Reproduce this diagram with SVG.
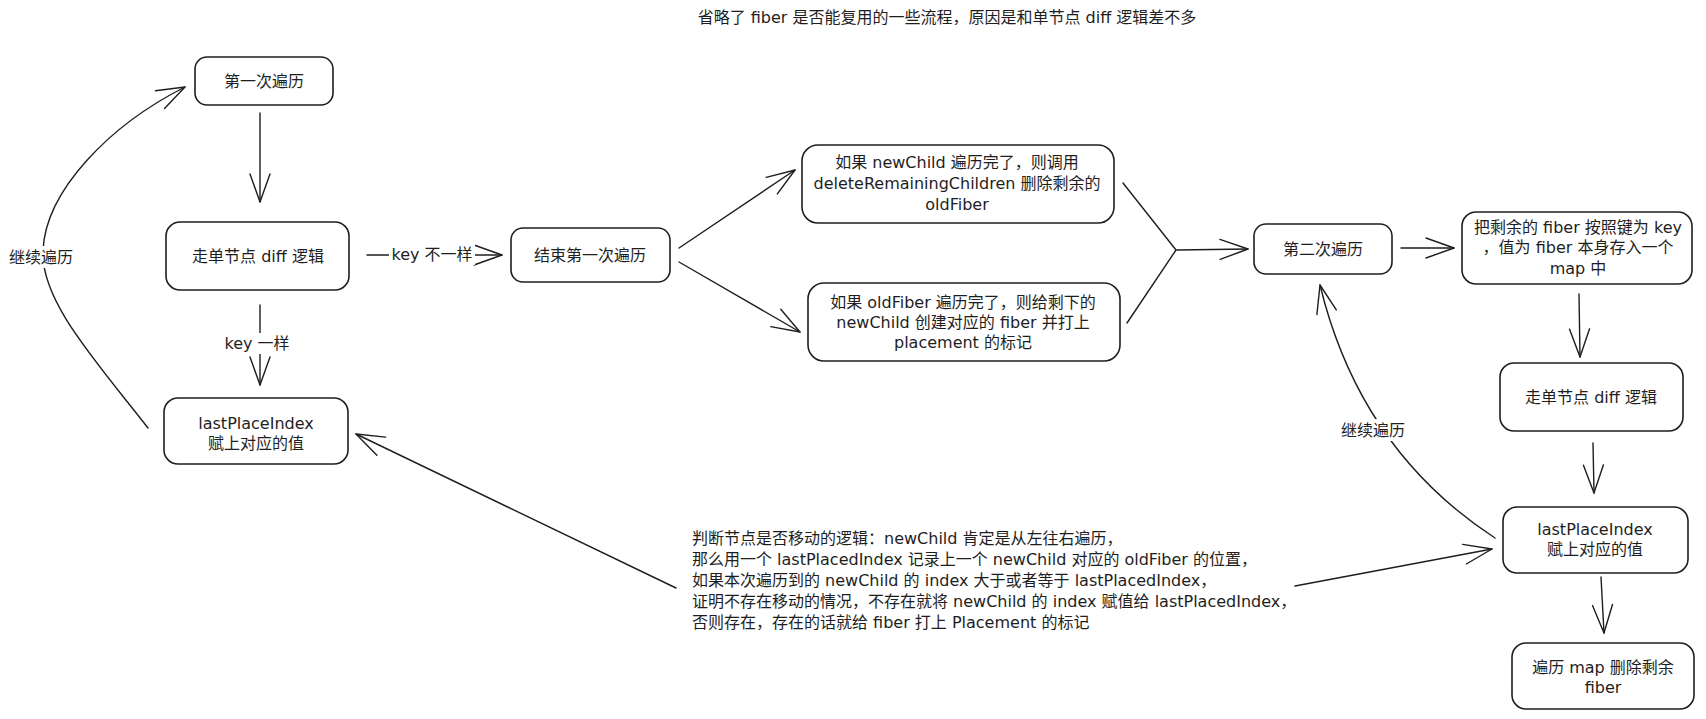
<svg xmlns="http://www.w3.org/2000/svg" width="1706" height="719" viewBox="0 0 1706 719">
<style>
  .node rect { fill: #ffffff; stroke: #1e1e1e; stroke-width: 1.6; }
  text { font-family: "DejaVu Sans", "Noto Sans CJK SC", sans-serif; font-size: 16px; fill: #1e1e1e; }
  .c { text-anchor: middle; dominant-baseline: central; }
  .conn path, .conn line { fill: none; stroke: #1e1e1e; stroke-width: 1.4; stroke-linecap: round; }
  .lbg { fill: #ffffff; stroke: none; }
</style>
<defs>
  <marker id="ah" markerUnits="userSpaceOnUse" viewBox="-32 -14 36 28" refX="0" refY="0" markerWidth="36" markerHeight="28" orient="auto" overflow="visible">
    <path d="M-28,-10 L0,0 L-28,10" fill="none" stroke="#1e1e1e" stroke-width="1.4" stroke-linecap="round" stroke-linejoin="round"/>
  </marker>
</defs>
<rect x="0" y="0" width="1706" height="719" fill="#ffffff"/>

<text id="title" x="947" y="17" class="c">省略了 fiber 是否能复用的一些流程，原因是和单节点 diff 逻辑差不多</text>

<g id="connectors" class="conn">
  <line x1="260" y1="113" x2="260" y2="202" marker-end="url(#ah)"/>
  <line x1="260" y1="305" x2="260" y2="385" marker-end="url(#ah)"/>
  <line x1="367" y1="255" x2="502" y2="255" marker-end="url(#ah)"/>
  <line x1="679" y1="248" x2="795" y2="170" marker-end="url(#ah)"/>
  <line x1="679" y1="262" x2="800" y2="332" marker-end="url(#ah)"/>
  <line x1="1123" y1="183" x2="1176" y2="250"/>
  <line x1="1127" y1="323" x2="1176" y2="250"/>
  <line x1="1177" y1="250" x2="1248" y2="249" marker-end="url(#ah)"/>
  <line x1="1401" y1="248" x2="1454" y2="248" marker-end="url(#ah)"/>
  <line x1="1579" y1="294" x2="1580" y2="357" marker-end="url(#ah)"/>
  <line x1="1593" y1="443" x2="1594" y2="493" marker-end="url(#ah)"/>
  <line x1="1601" y1="577" x2="1604" y2="633" marker-end="url(#ah)"/>
  <path d="M148,428 C95,360 40,300 43,250 C46,190 110,125 185,87" marker-end="url(#ah)"/>
  <path d="M1495,538 Q1360,450 1320,285" marker-end="url(#ah)"/>
  <line x1="676" y1="588" x2="356" y2="434" marker-end="url(#ah)"/>
  <line x1="1295" y1="586" x2="1492" y2="549" marker-end="url(#ah)"/>

  <g id="label-continue-left">
    <rect class="lbg" x="8" y="246" width="66" height="22"/>
    <text x="41" y="257" class="c">继续遍历</text>
  </g>
  <g id="label-key-same">
    <rect class="lbg" x="224" y="333" width="66" height="21"/>
    <text x="257" y="343" class="c">key 一样</text>
  </g>
  <g id="label-key-diff">
    <rect class="lbg" x="389" y="244" width="86" height="21"/>
    <text x="432" y="254" class="c">key 不一样</text>
  </g>
  <g id="label-continue-right">
    <rect class="lbg" x="1340" y="419" width="66" height="22"/>
    <text x="1373" y="430" class="c">继续遍历</text>
  </g>
</g>

<g id="node-first-loop" class="node">
  <rect x="195" y="57" width="138" height="48" rx="12"/>
  <text x="264" y="81" class="c">第一次遍历</text>
</g>
<g id="node-single-diff-left" class="node">
  <rect x="166" y="222" width="183" height="68" rx="14"/>
  <text x="258" y="256" class="c">走单节点 diff 逻辑</text>
</g>
<g id="node-lastplace-left" class="node">
  <rect x="164" y="398" width="184" height="66" rx="14"/>
  <text x="256" y="423" class="c">lastPlaceIndex</text>
  <text x="256" y="443" class="c">赋上对应的值</text>
</g>
<g id="node-end-first" class="node">
  <rect x="511" y="228" width="159" height="54" rx="12"/>
  <text x="590" y="255" class="c">结束第一次遍历</text>
</g>
<g id="node-newchild-done" class="node">
  <rect x="802" y="145" width="312" height="78" rx="16"/>
  <text x="957" y="162" class="c">如果 newChild 遍历完了，则调用</text>
  <text x="957" y="183" class="c">deleteRemainingChildren 删除剩余的</text>
  <text x="957" y="204" class="c">oldFiber</text>
</g>
<g id="node-oldfiber-done" class="node">
  <rect x="808" y="283" width="312" height="78" rx="16"/>
  <text x="963" y="302" class="c">如果 oldFiber 遍历完了，则给剩下的</text>
  <text x="963" y="322" class="c">newChild 创建对应的 fiber 并打上</text>
  <text x="963" y="342" class="c">placement 的标记</text>
</g>
<g id="node-second-loop" class="node">
  <rect x="1254" y="224" width="138" height="50" rx="12"/>
  <text x="1323" y="249" class="c">第二次遍历</text>
</g>
<g id="node-map" class="node">
  <rect x="1462" y="212" width="230" height="72" rx="14"/>
  <text x="1578" y="227" class="c">把剩余的 fiber 按照键为 key</text>
  <text x="1578" y="247" class="c">，值为 fiber 本身存入一个</text>
  <text x="1578" y="268" class="c">map 中</text>
</g>
<g id="node-single-diff-right" class="node">
  <rect x="1500" y="363" width="183" height="68" rx="14"/>
  <text x="1591" y="397" class="c">走单节点 diff 逻辑</text>
</g>
<g id="node-lastplace-right" class="node">
  <rect x="1503" y="507" width="185" height="66" rx="14"/>
  <text x="1595" y="529" class="c">lastPlaceIndex</text>
  <text x="1595" y="549" class="c">赋上对应的值</text>
</g>
<g id="node-delete-rest" class="node">
  <rect x="1512" y="643" width="182" height="66" rx="14"/>
  <text x="1603" y="667" class="c">遍历 map 删除剩余</text>
  <text x="1603" y="687" class="c">fiber</text>
</g>

<g id="note">
  <text x="692" y="544">判断节点是否移动的逻辑：newChild 肯定是从左往右遍历，</text>
  <text x="692" y="565">那么用一个 lastPlacedIndex 记录上一个 newChild 对应的 oldFiber 的位置，</text>
  <text x="692" y="586">如果本次遍历到的 newChild 的 index 大于或者等于 lastPlacedIndex，</text>
  <text x="692" y="607">证明不存在移动的情况，不存在就将 newChild 的 index 赋值给 lastPlacedIndex，</text>
  <text x="692" y="628">否则存在，存在的话就给 fiber 打上 Placement 的标记</text>
</g>
</svg>
